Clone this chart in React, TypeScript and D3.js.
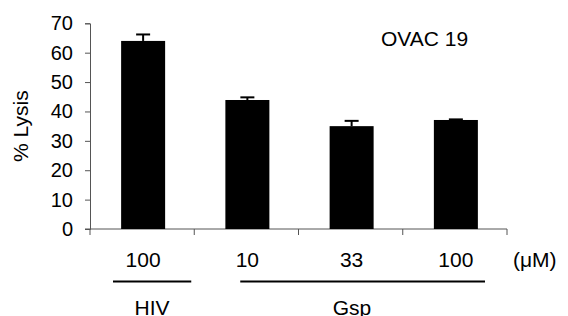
import React, { useEffect, useRef } from "react";
import * as d3 from "d3";

const categories = ["HIV 100", "Gsp 10", "Gsp 33", "Gsp 100"];
const tickLabels = ["100", "10", "33", "100"];
const lysis = [64.0, 43.9, 35.0, 37.1];
const errors = [2.2, 0.9, 1.8, 0.2];
const yTicks = [0, 10, 20, 30, 40, 50, 60, 70];
const groups = [
  { name: "HIV", from: 0, to: 0 },
  { name: "Gsp", from: 1, to: 3 },
];

const App = () => {
  const ref = useRef<SVGSVGElement>(null);

  useEffect(() => {
    const svg = d3.select(ref.current);
    svg.selectAll("*").remove();

    const width = 568, height = 316;
    const left = 90, right = 507, top = 23.3, bottom = 229;
    const font = "Liberation Sans, Arial, sans-serif";

    const x = d3.scaleBand().domain(categories).range([left, right]).padding(0);
    const y = d3.scaleLinear().domain([0, 70]).range([bottom, top]);
    const barW = 44;

    svg.attr("width", width).attr("height", height).style("display", "block");

    // Y axis
    const yAxis = svg.append("g")
      .attr("transform", `translate(${left},0)`)
      .call(d3.axisLeft(y).tickValues(yTicks).tickSize(5).tickPadding(12).tickFormat(d3.format("d")));
    yAxis.select(".domain").attr("stroke", "#555");
    yAxis.selectAll(".tick line").attr("stroke", "#555");
    yAxis.selectAll("text").attr("font-family", font).attr("font-size", 20).attr("fill", "#000");

    // X axis with ticks at band boundaries
    const bounds = categories.map(c => x(c)!).concat([right]);
    svg.append("line")
      .attr("x1", left - 5).attr("x2", right)
      .attr("y1", bottom).attr("y2", bottom)
      .attr("stroke", "#555");
    svg.selectAll(".xt").data(bounds).enter().append("line")
      .attr("x1", d => d).attr("x2", d => d)
      .attr("y1", bottom).attr("y2", bottom + 6)
      .attr("stroke", "#555");

    // Bars
    svg.selectAll(".bar").data(lysis).enter().append("rect")
      .attr("x", (d, i) => x(categories[i])! + x.bandwidth() / 2 - barW / 2 + 1)
      .attr("y", d => y(d))
      .attr("width", barW)
      .attr("height", d => bottom - y(d))
      .attr("fill", "#000");

    // Error bars
    lysis.forEach((v, i) => {
      const cx = x(categories[i])! + x.bandwidth() / 2 + 1;
      const g = svg.append("g").attr("stroke", "#000").attr("stroke-width", 2);
      g.append("line").attr("x1", cx).attr("x2", cx).attr("y1", y(v)).attr("y2", y(v + errors[i]));
      g.append("line").attr("x1", cx - 7).attr("x2", cx + 7).attr("y1", y(v + errors[i])).attr("y2", y(v + errors[i]));
    });

    // Category tick labels
    svg.selectAll(".cl").data(tickLabels).enter().append("text")
      .attr("x", (d, i) => x(categories[i])! + x.bandwidth() / 2 + 1)
      .attr("y", 267)
      .attr("text-anchor", "middle")
      .attr("font-family", font).attr("font-size", 21)
      .text(d => d);

    svg.append("text")
      .attr("x", 513).attr("y", 267)
      .attr("font-family", font).attr("font-size", 21)
      .text("(\u03bcM)");

    // Group lines and labels
    const lineExt = [
      [x(categories[0])! + 23, x(categories[0])! + x.bandwidth() - 3],
      [x(categories[1])! + 46, x(categories[3])! + x.bandwidth() - 22],
    ];
    groups.forEach((g, i) => {
      const [x1, x2] = lineExt[i];
      svg.append("line")
        .attr("x1", x1).attr("x2", x2).attr("y1", 281.5).attr("y2", 281.5)
        .attr("stroke", "#000").attr("stroke-width", 2);
      svg.append("text")
        .attr("x", i === 0 ? (x1 + x2) / 2 : 352).attr("y", 315)
        .attr("text-anchor", "middle")
        .attr("font-family", font).attr("font-size", 21)
        .text(g.name);
    });

    // Panel label
    svg.append("text")
      .attr("x", 381).attr("y", 46)
      .attr("font-family", font).attr("font-size", 21)
      .text("OVAC 19");

    // Y axis title
    svg.append("text")
      .attr("transform", `translate(28,${(top + bottom) / 2}) rotate(-90)`)
      .attr("text-anchor", "middle")
      .attr("font-family", font).attr("font-size", 21)
      .text("% Lysis");
  }, []);

  return (
    <div style={{ position: "absolute", left: 0, top: 0 }}>
      <svg ref={ref}></svg>
    </div>
  );
};

export default App;
